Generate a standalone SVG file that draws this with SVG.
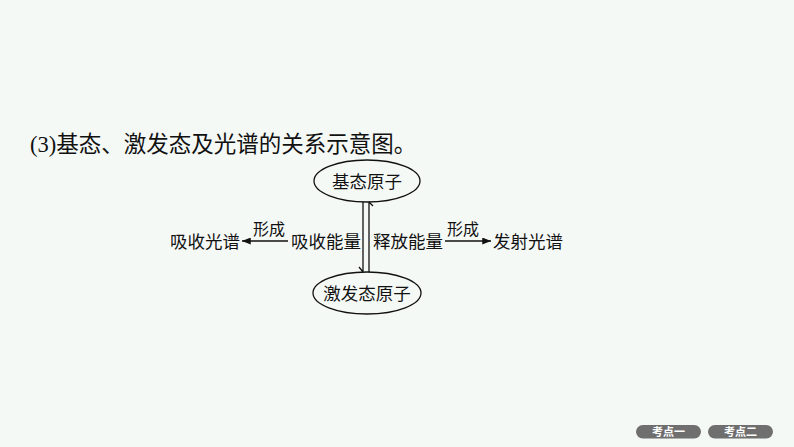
<svg xmlns="http://www.w3.org/2000/svg" width="794" height="447" viewBox="0 0 794 447">
<style>
.t{font-family:"Liberation Serif","Noto Sans CJK SC",serif;fill:#111}
.n{font-family:"Noto Sans CJK SC","Liberation Serif",serif;font-size:17.5px;fill:#111}
.f{font-family:"Noto Sans CJK SC",sans-serif;font-size:16px;fill:#111}
.ell{fill:none;stroke:#111;stroke-width:1.3}
.ln{fill:none;stroke:#111;stroke-width:1.3}
.btn{fill:#6f6f6f}
.bt{font-family:"Noto Sans CJK SC",sans-serif;font-size:11px;font-weight:bold;fill:#fff}
</style>
<defs>
<marker id="ah" viewBox="0 0 10 8" refX="10" refY="4" markerWidth="9" markerHeight="7" markerUnits="userSpaceOnUse" orient="auto">
<path d="M0,0 L10,4 L0,8 Z" fill="#111"/>
</marker>
</defs>
<rect width="794" height="447" fill="#f5f9f6"/>
<text class="t" x="30" y="151.5" font-size="22.5">(3)基态、激发态及光谱的关系示意图。</text>
<g id="ground">
<ellipse class="ell" cx="367" cy="181" rx="53" ry="21"/>
<text class="n" x="367" y="187.5" text-anchor="middle">基态原子</text>
</g>
<g id="excited">
<ellipse class="ell" cx="367" cy="293" rx="54" ry="21"/>
<text class="n" x="367" y="300" text-anchor="middle">激发态原子</text>
</g>
<g id="absorbE"><text class="n" x="326" y="247.5" text-anchor="middle">吸收能量</text></g>
<g id="releaseE"><text class="n" x="408" y="247.5" text-anchor="middle">释放能量</text></g>
<g id="absorbS"><text class="n" x="205" y="247.5" text-anchor="middle">吸收光谱</text></g>
<g id="emitS"><text class="n" x="528" y="247.5" text-anchor="middle">发射光谱</text></g>
<g id="connectors">
<path class="ln" d="M363,202 V272 M359,267 L363,272"/>
<path class="ln" d="M369,272 V202 M373,206 L369,202"/>
<line class="ln" x1="288" y1="241" x2="242" y2="241" marker-end="url(#ah)"/>
<line class="ln" x1="445" y1="241" x2="491" y2="241" marker-end="url(#ah)"/>
<text class="f" x="269" y="234.5" text-anchor="middle">形成</text>
<text class="f" x="463" y="234.5" text-anchor="middle">形成</text>
</g>
<g id="buttons">
<rect class="btn" x="636" y="425" width="65" height="13.5" rx="6.75"/>
<text class="bt" x="668.5" y="435.7" text-anchor="middle">考点一</text>
<rect class="btn" x="708" y="425" width="65" height="13.5" rx="6.75"/>
<text class="bt" x="740.5" y="435.7" text-anchor="middle">考点二</text>
</g>
</svg>
